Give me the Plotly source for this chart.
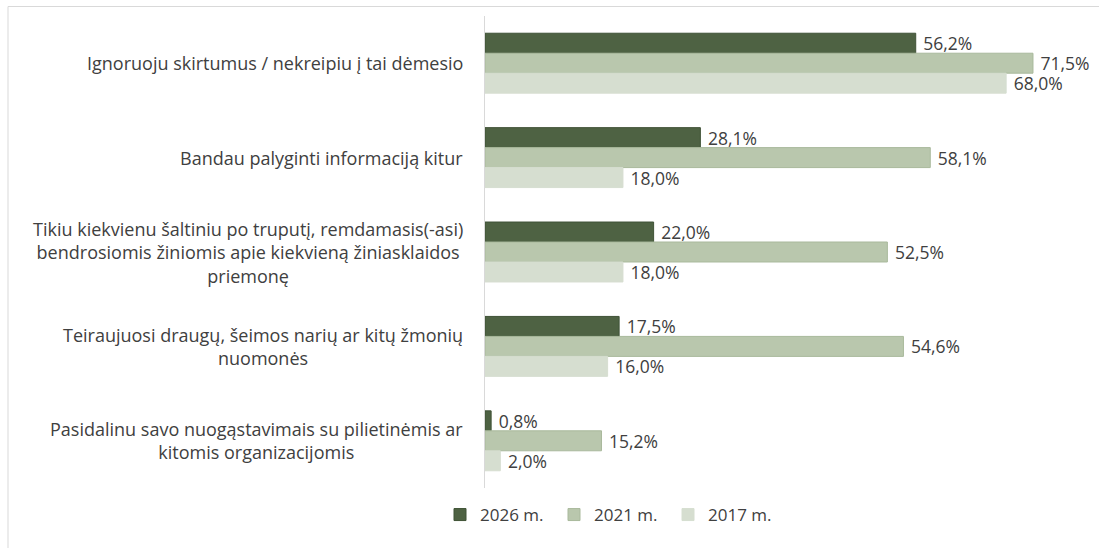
import plotly.graph_objects as go

categories = [
    "Ignoruoju skirtumus / nekreipiu į tai dėmesio",
    "Bandau palyginti informaciją kitur",
    "Tikiu kiekvienu šaltiniu po truputį, remdamasis(-asi)<br>bendrosiomis žiniomis apie kiekvieną žiniasklaidos<br>priemonę",
    "Teiraujuosi draugų, šeimos narių ar kitų žmonių<br>nuomonės",
    "Pasidalinu savo nuogąstavimais su pilietinėmis ar<br>kitomis organizacijomis",
]
series_names = ["2026 m.", "2021 m.", "2017 m."]
values_2026 = [56.2, 28.1, 22.0, 17.5, 0.8]
values_2021 = [71.5, 58.1, 52.5, 54.6, 15.2]
values_2017 = [68.0, 18.0, 18.0, 16.0, 2.0]

series_values = [values_2026, values_2021, values_2017]
colors = ["#4e6243", "#b9c7ad", "#d6ded0"]
line_colors = ["#3f5236", "#a9b99c", "#d6ded0"]

FONT = "'Open Sans', Calibri, sans-serif"
TEXT_COLOR = "#404040"

W, H = 1099, 548
ML, MR, MT, MB = 485, 9, 16, 60
PW = W - ML - MR
PH = H - MT - MB

fig = go.Figure()
for name, vals, c, lc in zip(series_names, series_values, colors, line_colors):
    fig.add_trace(go.Bar(
        y=categories, x=vals, name=name, orientation="h",
        marker=dict(color=c, line=dict(color=lc, width=1)),
        text=["\u00a0" + f"{v:.1f}%".replace(".", ",") for v in vals],
        textposition="outside", cliponaxis=False, constraintext="none",
        textfont=dict(family=FONT, size=17.5, color=TEXT_COLOR),
        hoverinfo="skip",
    ))

for cat in categories:
    fig.add_annotation(
        x=0, xref="paper", y=cat, yref="y", text=cat, showarrow=False,
        xanchor="right", yanchor="middle", align="center", xshift=-20,
        font=dict(family=FONT, size=18, color=TEXT_COLOR),
    )

# outer chart border
fig.add_shape(
    type="rect", xref="paper", yref="paper",
    x0=(8 - ML) / PW, x1=(W + 20 - ML) / PW,
    y0=-(H + 20 - PH - MT) / PH, y1=(PH + MT - 6.5) / PH,
    line=dict(color="#d9d9d9", width=1), layer="below",
)

fig.update_layout(
    width=W, height=H,
    margin=dict(l=ML, r=MR, t=MT, b=MB),
    paper_bgcolor="white", plot_bgcolor="white",
    barmode="group", bargap=0.365, bargroupgap=0,
    font=dict(family=FONT, size=18, color=TEXT_COLOR),
    xaxis=dict(range=[0, PW / 7.664], showgrid=False, zeroline=False,
               showticklabels=False, ticks="", showline=False, fixedrange=True),
    yaxis=dict(autorange="reversed", showticklabels=False, ticks="",
               showgrid=False, zeroline=False, showline=True,
               linecolor="#d9d9d9", linewidth=1, fixedrange=True),
    legend=dict(orientation="h", x=(440 - ML) / PW, xanchor="left",
                y=-(515 - MT - PH) / PH, yanchor="middle",
                font=dict(family=FONT, size=17, color=TEXT_COLOR),
                traceorder="normal", entrywidth=69, entrywidthmode="pixels",
                itemwidth=30),
    showlegend=True,
)

fig.write_html("out.html", config={"displayModeBar": False},
               post_script="document.body.style.margin='0';")
